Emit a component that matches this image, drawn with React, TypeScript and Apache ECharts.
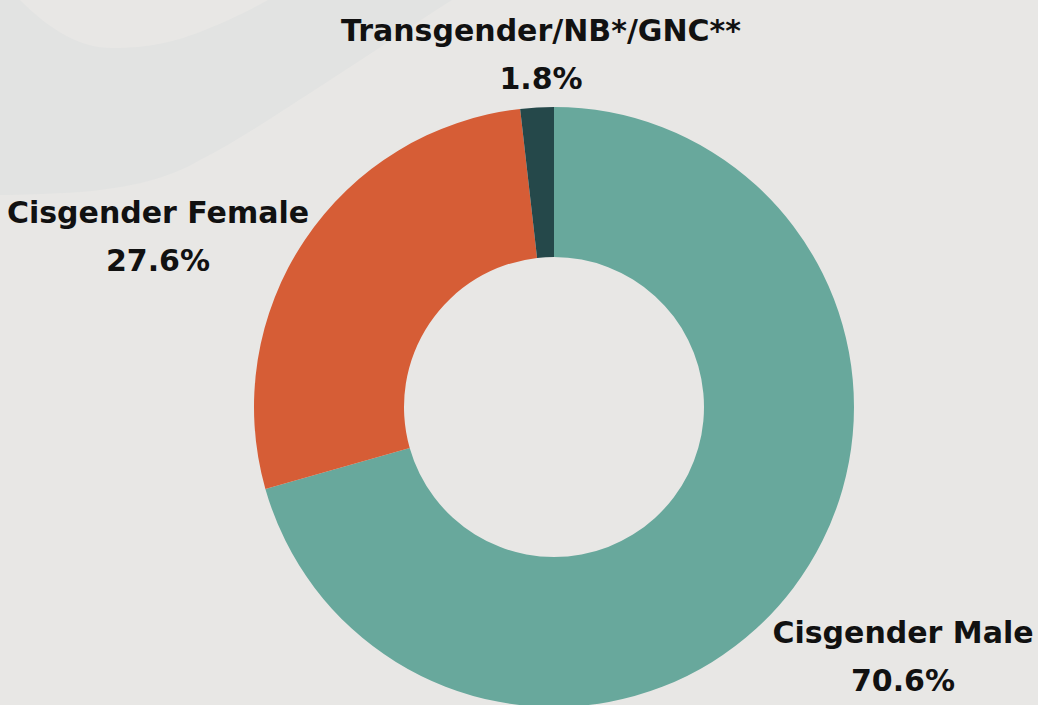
import React, { useEffect, useRef } from "react";
import * as echarts from "echarts";

const categories = ["Cisgender Male", "Cisgender Female", "Transgender/NB*/GNC**"];
const values = [70.6, 27.6, 1.8];
const colors = ["#68a89c", "#d65d36", "#25484a"];

const blobPath =
  "M0,0 L20,0 C50,30 80,48 112,48 C150,48 175,42 205,30 C230,20 250,10 268,0 L452,0 C420,20 385,45 330,80 C280,112 240,140 200,160 C170,178 130,188 80,192 C50,194 20,195 0,195 Z";

echarts.graphic.registerShape("bgblob", echarts.graphic.extendPath(blobPath as any, {}) as any);

export default function App() {
  const ref = useRef<HTMLDivElement>(null);
  useEffect(() => {
    if (!ref.current) return;
    const chart = echarts.init(ref.current, undefined, { renderer: "svg" });
    const labelPos = [
      { x: 903, y: 656 },
      { x: 158, y: 236 },
      { x: 541, y: 54 },
    ];
    chart.setOption({
      animation: false,
      backgroundColor: "#e8e7e5",
      graphic: [
        {
          type: "bgblob",
          x: 0,
          y: 0,
          z: -10,
          silent: true,
          style: { fill: "#e2e3e2" },
        },
      ],
      series: [
        {
          type: "pie",
          center: [554, 407],
          radius: [150, 300],
          startAngle: 90,
          clockwise: true,
          data: categories.map((name, i) => ({
            name,
            value: values[i],
            itemStyle: { color: colors[i] },
          })),
          label: {
            show: true,
            position: "outside",
            formatter: (p: any) => `${p.name}\n${p.value.toFixed(1)}%`,
            fontFamily: "DejaVu Sans",
            fontWeight: "bold",
            fontSize: 30,
            lineHeight: 48,
            color: "#111111",
            align: "center",
            overflow: "none",
            width: 440,
          },
          labelLine: { show: false },
          labelLayout: (params: any) => {
            const p = labelPos[params.dataIndex];
            return { x: p.x, y: p.y, align: "center", verticalAlign: "middle", hideOverlap: false };
          },
        },
      ],
    });
    return () => chart.dispose();
  }, []);
  return (
    <div
      ref={ref}
      style={{ position: "absolute", left: 0, top: 0, width: 1038, height: 705 }}
    />
  );
}
